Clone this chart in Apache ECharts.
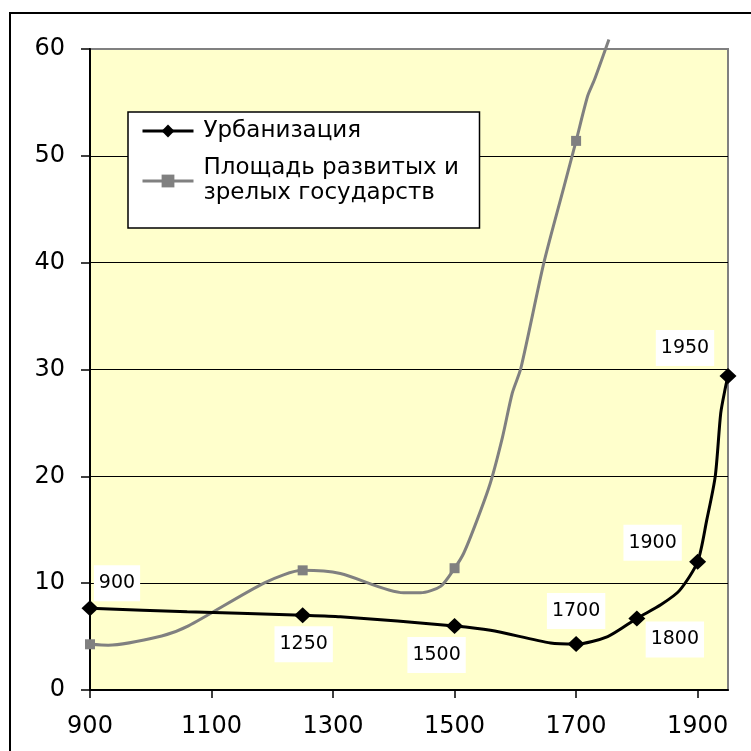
<!DOCTYPE html>
<html><head><meta charset="utf-8">
<script src="https://cdn.jsdelivr.net/npm/echarts@6/dist/echarts.min.js"></script>
<style>html,body{margin:0;padding:0;background:#fff}#c{width:751px;height:751px}</style>
</head><body><div id="c"></div>
<script>
// ---- data ----
const xTicks = [900, 1100, 1300, 1500, 1700, 1900];
const yTicks = [0, 10, 20, 30, 40, 50, 60];

const urbName = 'Урбанизация';
const urbYears  = [900, 1060, 1146, 1250, 1312, 1500, 1559, 1658, 1700, 1752, 1800, 1840, 1870, 1900, 1915, 1929, 1938, 1945, 1950];
const urbValues = [7.65, 7.33, 7.18, 7.0, 6.86, 6.0, 5.6, 4.4, 4.3, 5.0, 6.7, 8.0, 9.3, 12.0, 15.9, 20.0, 25.9, 28.1, 29.4];
const urbMarkedYears = [900, 1250, 1500, 1700, 1800, 1900, 1950];

const areaName = 'Площадь развитых и\nзрелых государств';
const areaYears  = [900, 930, 1018, 1062, 1188, 1250, 1312, 1416, 1444, 1477, 1500, 1515, 1537, 1559, 1579, 1595, 1609, 1647, 1680, 1700, 1719, 1730, 1754];
const areaValues = [4.28, 4.2, 5.06, 6.0, 10.05, 11.2, 10.9, 9.1, 9.1, 9.7, 11.4, 12.8, 15.9, 19.4, 23.7, 27.8, 30.1, 40.0, 47.1, 51.4, 55.6, 57.1, 60.9];
const areaMarkedYears = [900, 1250, 1500, 1700];

// ---- label placement (style, not data) ----
const labelOffsets = {900:[27,-25], 1250:[1,29], 1500:[-18,29], 1700:[0,-33], 1800:[38,21], 1900:[-45,-19], 1950:[-43,-28]};

const FONT = 'DejaVu Sans';

function buildUrb() {
  return urbYears.map((x, i) => {
    const marked = urbMarkedYears.indexOf(x) >= 0;
    return {
      value: [x, urbValues[i]],
      symbol: marked ? 'diamond' : 'none',
      label: marked ? {show: true, formatter: String(x), offset: labelOffsets[x]} : {show: false}
    };
  });
}
function buildArea() {
  return areaYears.map((x, i) => {
    const marked = areaMarkedYears.indexOf(x) >= 0;
    return { value: [x, areaValues[i]], symbol: marked ? 'rect' : 'none' };
  });
}

const chart = echarts.init(document.getElementById('c'), null, {renderer: 'canvas'});
chart.setOption({
  animation: false,
  backgroundColor: '#fff',
  graphic: [{
    type: 'rect', x: 10, y: 13, shape: {width: 800, height: 800},
    style: {fill: 'none', stroke: '#000', lineWidth: 2}, silent: true
  }],
  grid: {
    left: 90, right: 23, top: 49, bottom: 61,
    show: true, backgroundColor: '#FFFFCC', borderColor: '#808080', borderWidth: 2,
    containLabel: false, outerBoundsMode: 'none'
  },
  legend: {
    orient: 'vertical', left: 128, top: 112,
    padding: [6.5, 8, 9.5, 13], itemGap: 0, itemWidth: 51, itemHeight: 16,
    backgroundColor: '#fff', borderColor: '#000', borderWidth: 1.5, borderRadius: 0,
    selectedMode: false,
    lineStyle: {width: 3},
    textStyle: {fontFamily: FONT, fontSize: 23, color: '#000', lineHeight: 25, width: 268, padding: [0, 0, 0, 5]},
    data: [
      {name: urbName},
      {name: areaName, textStyle: {padding: [25, 0, 0, 5]}}
    ]
  },
  xAxis: {
    type: 'value', min: 900, max: 1950, interval: 200,
    axisLine: {show: true, lineStyle: {color: '#000', width: 2}},
    axisTick: {show: true, length: 8, lineStyle: {color: '#000', width: 1.5}, customValues: xTicks},
    axisLabel: {customValues: xTicks, formatter: v => String(v), fontSize: 24, fontFamily: FONT, color: '#000', margin: 25},
    splitLine: {show: false}
  },
  yAxis: {
    type: 'value', min: 0, max: 60, interval: 10,
    axisLine: {show: true, lineStyle: {color: '#000', width: 2}},
    axisTick: {show: true, length: 9, lineStyle: {color: '#000', width: 1.5}, customValues: yTicks},
    axisLabel: {customValues: yTicks, formatter: v => String(v), fontSize: 24, fontFamily: FONT, color: '#000', margin: 25},
    splitLine: {show: true, showMinLine: false, showMaxLine: false, lineStyle: {color: '#000', width: 1}}
  },
  series: [
    {
      name: areaName, type: 'line', data: buildArea(), smooth: 0.25, clip: false,
      symbol: 'rect', symbolSize: 10, showAllSymbol: true,
      lineStyle: {color: '#808080', width: 3}, itemStyle: {color: '#808080'},
      label: {show: false}, z: 2
    },
    {
      name: urbName, type: 'line', data: buildUrb(), smooth: 0.25, clip: false,
      symbol: 'diamond', symbolSize: [17, 16], showAllSymbol: true,
      lineStyle: {color: '#000', width: 3}, itemStyle: {color: '#000'},
      label: {
        show: true, position: 'inside', fontSize: 19, fontFamily: FONT, color: '#000',
        backgroundColor: '#fff', padding: [8, 5, 8, 5], lineHeight: 20
      },
      z: 3
    }
  ]
});
</script></body></html>
